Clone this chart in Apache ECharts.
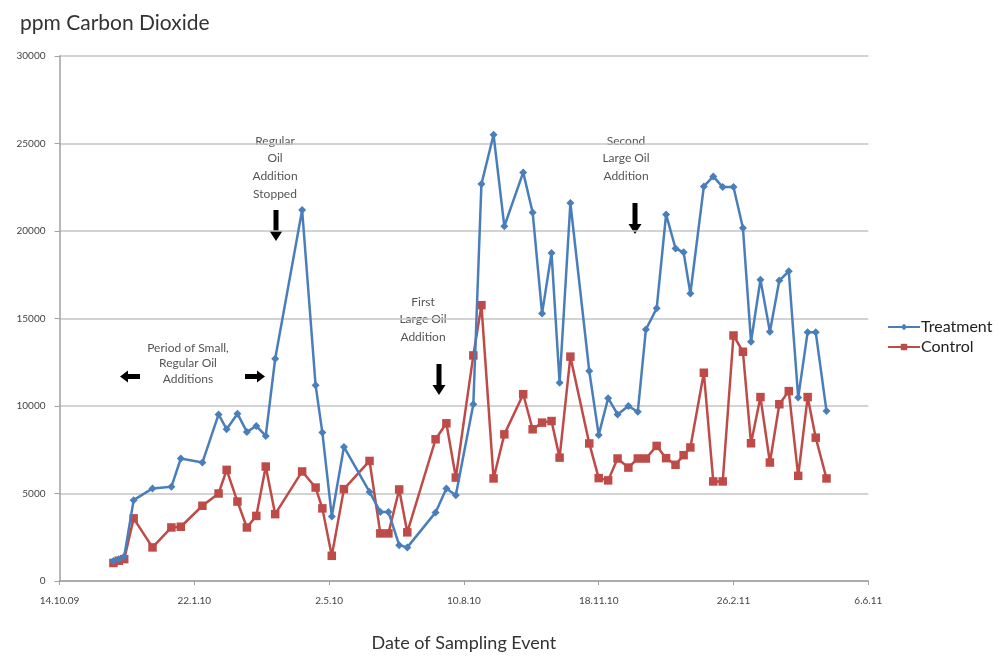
<!DOCTYPE html>
<html><head><meta charset="utf-8">
<script src="https://cdn.jsdelivr.net/npm/echarts@6/dist/echarts.min.js"></script>
<style>html,body{margin:0;padding:0;background:#fff}#c{width:1003px;height:657px}</style>
</head><body><div id="c"></div>
<script>
// days since 14.10.09
const days = [40,44,48,55,69,83,90,106,118,124,132,139,146,153,160,180,190,195,202,211,230,238,244,252,258,279,287,294,307,313,322,330,344,351,358,365,371,379,393,400,407,414,422,429,435,443,450,457,463,468,478,485,492,500,507,513,520,527,534,541,548,555,561,569];
const treatment = [1150,1250,1400,4620,5290,5380,7000,6770,9520,8670,9560,8520,8860,8290,12700,21200,11180,8480,3690,7660,5090,3950,3950,2050,1920,3920,5290,4900,10100,22680,25500,20270,23350,21060,15290,18750,11330,21600,12000,8350,10450,9520,10000,9670,14370,15580,20950,19000,18780,16430,22550,23120,22510,22510,20170,13670,17220,14240,17170,17700,10480,14220,14220,9710];
const control = [1030,1160,1250,3580,1920,3060,3100,4300,5000,6350,4540,3060,3720,6540,3820,6260,5340,4150,1440,5250,6860,2720,2720,5230,2780,8100,9010,5910,12890,15760,5860,8380,10670,8670,9050,9140,7050,12820,7860,5880,5750,7000,6480,7000,7000,7720,7020,6640,7190,7630,11900,5690,5690,14030,13100,7870,10510,6770,10100,10850,6010,10510,8190,5860];
const tickLabels = ['14.10.09','22.1.10','2.5.10','10.8.10','18.11.10','26.2.11','6.6.11'];
const seriesNames = ['Treatment','Control'];

const chart = echarts.init(document.getElementById('c'));
const FONT = 'Lato, "Open Sans", sans-serif';
function downArrow(cx, top){
  return {type:'polygon', shape:{points:[[cx-2.5,top],[cx+2.5,top],[cx+2.5,top+21],[cx+6.5,top+21],[cx,top+31],[cx-6.5,top+21],[cx-2.5,top+21]]}, style:{fill:'#000'}};
}
function hArrow(cx, cy, dir){
  const d = dir; // 1 right, -1 left
  return {type:'polygon', shape:{points:[[cx-10*d,cy-2.5],[cx+2*d,cy-2.5],[cx+2*d,cy-6],[cx+10*d,cy],[cx+2*d,cy+6],[cx+2*d,cy+2.5],[cx-10*d,cy+2.5]]}, style:{fill:'#000'}};
}
function note(x, y, txt, lh){
  return {type:'text', x:x, y:y, style:{text:txt, fill:'#555', font:'12px '+FONT, align:'center', verticalAlign:'top', lineHeight:lh}};
}
chart.setOption({
  animation:false,
  backgroundColor:'#fff',
  title:{text:'ppm Carbon Dioxide', left:15, top:8, textStyle:{fontFamily:FONT, fontSize:21, fontWeight:'normal', color:'#333'}},
  grid:{left:59.5, right:134.7, top:56, bottom:75},
  legend:{orient:'vertical', left:882, top:314, itemGap:4, itemWidth:32, itemHeight:8,
    textStyle:{fontFamily:FONT, fontSize:16, lineHeight:16, color:'#222', padding:[0,0,0,-4]}, data:seriesNames},
  xAxis:{type:'value', min:0, max:600, interval:100,
    name:'Date of Sampling Event', nameLocation:'middle', nameGap:53,
    nameTextStyle:{fontFamily:FONT, fontSize:18, color:'#333'},
    axisLine:{lineStyle:{color:'#a0a0a0', width:1.5}},
    axisTick:{show:true, length:4, lineStyle:{color:'#a0a0a0'}},
    axisLabel:{formatter:v=>tickLabels[Math.round(v/100)], fontFamily:FONT, fontSize:10, color:'#444', margin:15},
    splitLine:{show:false}},
  yAxis:{type:'value', min:0, max:30000, interval:5000,
    axisLine:{show:true, lineStyle:{color:'#a0a0a0', width:1.5}},
    axisTick:{show:true, length:5, lineStyle:{color:'#a0a0a0'}},
    axisLabel:{formatter:v=>String(v), fontFamily:FONT, fontSize:10, color:'#444', margin:14},
    splitLine:{lineStyle:{color:'#c4c4c4', width:1.5}}},
  series:[
    {name:seriesNames[0], type:'line', data:days.map((d,i)=>[d,treatment[i]]),
      symbol:'diamond', symbolSize:8, color:'#4a7ebb', lineStyle:{width:2.5, color:'#4a7ebb'}, itemStyle:{color:'#4a7ebb'}, z:3},
    {name:seriesNames[1], type:'line', data:days.map((d,i)=>[d,control[i]]),
      symbol:'rect', symbolSize:8.5, color:'#be4b48', lineStyle:{width:2.5, color:'#be4b48'}, itemStyle:{color:'#be4b48'}, z:2}
  ],
  graphic:[
    note(275,132,'Regular\nOil\nAddition\nStopped',17.7), downArrow(276,210),
    note(188,340,'Period of Small,\nRegular Oil\nAdditions',15.5), hArrow(130,376.5,-1), hArrow(255,376.5,1),
    note(423,293,'First\nLarge Oil\nAddition',17.7), downArrow(439,364),
    note(626,132,'Second\nLarge Oil\nAddition',17.7), downArrow(635,203)
  ]
});
</script></body></html>
